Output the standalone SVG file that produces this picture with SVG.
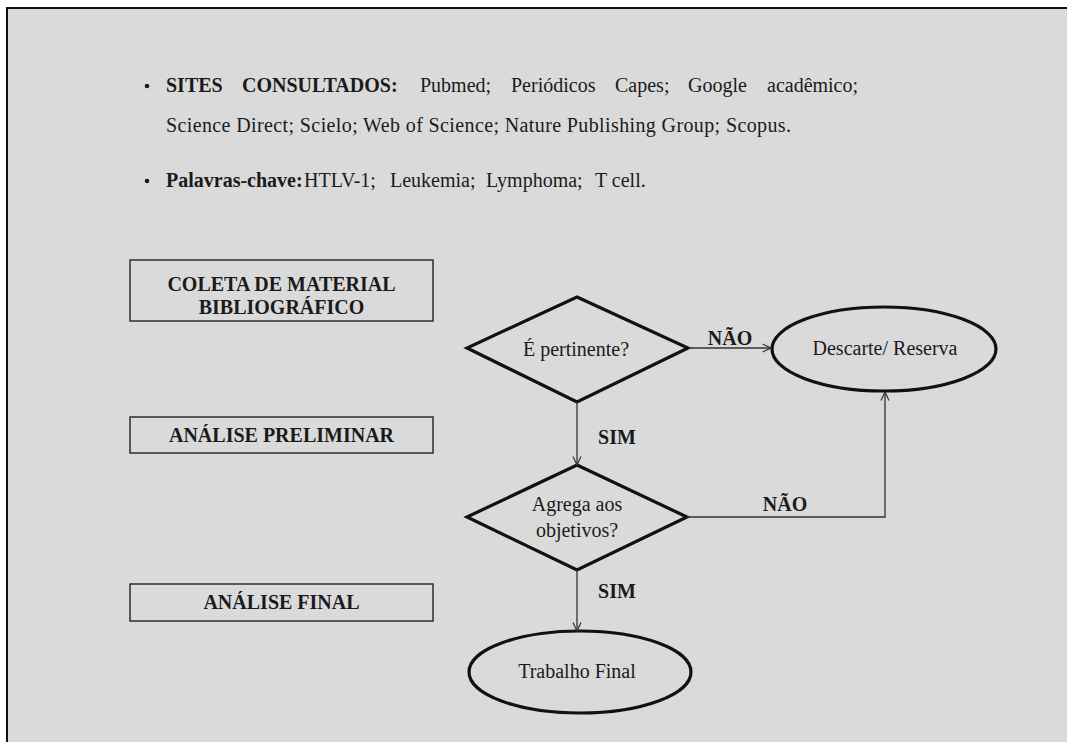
<svg xmlns="http://www.w3.org/2000/svg" width="1067" height="742" viewBox="0 0 1067 742">
<defs>
<style>
.t{font-family:"Liberation Serif","Times New Roman",serif;font-size:20px;fill:#1a1a1a}
.b{font-weight:bold}
.box{fill:none;stroke:#222;stroke-width:1.4}
.shape{fill:none;stroke:#111;stroke-width:3.2}
.con{fill:none;stroke:#333;stroke-width:1.3}
</style>
<marker id="arr" viewBox="0 0 10 10" refX="9.5" refY="5" markerWidth="10" markerHeight="10" markerUnits="userSpaceOnUse" orient="auto">
<path d="M1,1 L9.5,5 L1,9" fill="none" stroke="#333" stroke-width="1.2"/>
</marker>
</defs>
<rect width="1067" height="742" fill="#ffffff"/>
<rect x="7" y="8" width="1070" height="740" fill="#dadada" stroke="#111" stroke-width="2"/>

<g id="texto-sites">
<circle cx="147" cy="86" r="2.3" fill="#1a1a1a"/>
<text class="t" y="92"><tspan class="b" x="166">SITES</tspan><tspan class="b" x="242">CONSULTADOS:</tspan><tspan x="420">Pubmed;</tspan><tspan x="511">Periódicos</tspan><tspan x="615">Capes;</tspan><tspan x="688">Google</tspan><tspan x="767">acadêmico;</tspan></text>
<text class="t" x="166" y="132" textLength="625">Science Direct; Scielo; Web of Science; Nature Publishing Group; Scopus.</text>
</g>
<g id="texto-palavras">
<circle cx="147" cy="181" r="2.3" fill="#1a1a1a"/>
<text class="t" y="187"><tspan class="b" x="166">Palavras-chave:</tspan><tspan x="304">HTLV-1;</tspan><tspan x="390">Leukemia;</tspan><tspan x="486">Lymphoma;</tspan><tspan x="595">T cell.</tspan></text>
</g>

<g id="coleta">
<rect class="box" x="130" y="260" width="303" height="61"/>
<text class="t b" x="281.5" y="291" text-anchor="middle">COLETA DE MATERIAL</text>
<text class="t b" x="281.5" y="314" text-anchor="middle">BIBLIOGRÁFICO</text>
</g>
<g id="analise-preliminar">
<rect class="box" x="130" y="417" width="303" height="36"/>
<text class="t b" x="281.5" y="442" text-anchor="middle">ANÁLISE PRELIMINAR</text>
</g>
<g id="analise-final">
<rect class="box" x="130" y="584" width="303" height="37"/>
<text class="t b" x="281.5" y="609" text-anchor="middle">ANÁLISE FINAL</text>
</g>

<g id="e-pertinente">
<polygon class="shape" points="577,297 688,348 577,402 467,348"/>
<text class="t" x="576" y="356" text-anchor="middle">É pertinente?</text>
</g>
<g id="descarte">
<ellipse class="shape" cx="884" cy="349" rx="112" ry="42"/>
<text class="t" x="885" y="355" text-anchor="middle">Descarte/ Reserva</text>
</g>
<g id="agrega">
<polygon class="shape" points="577,465 687,517 577,570 467,517"/>
<text class="t" x="577" y="511" text-anchor="middle">Agrega aos</text>
<text class="t" x="577" y="537" text-anchor="middle">objetivos?</text>
</g>
<g id="trabalho-final">
<ellipse class="shape" cx="580" cy="672" rx="111" ry="41"/>
<text class="t" x="577" y="678" text-anchor="middle">Trabalho Final</text>
</g>

<g id="connectors">
<line class="con" x1="688" y1="348" x2="771" y2="348" marker-end="url(#arr)"/>
<line class="con" x1="577" y1="402" x2="577" y2="465" marker-end="url(#arr)"/>
<polyline class="con" points="687,517 885,517 885,392" marker-end="url(#arr)"/>
<line class="con" x1="577" y1="570" x2="577" y2="631" marker-end="url(#arr)"/>
<text class="t b" x="730" y="345" text-anchor="middle">NÃO</text>
<text class="t b" x="617" y="444" text-anchor="middle">SIM</text>
<text class="t b" x="785" y="511" text-anchor="middle">NÃO</text>
<text class="t b" x="617" y="598" text-anchor="middle">SIM</text>
</g>
</svg>
